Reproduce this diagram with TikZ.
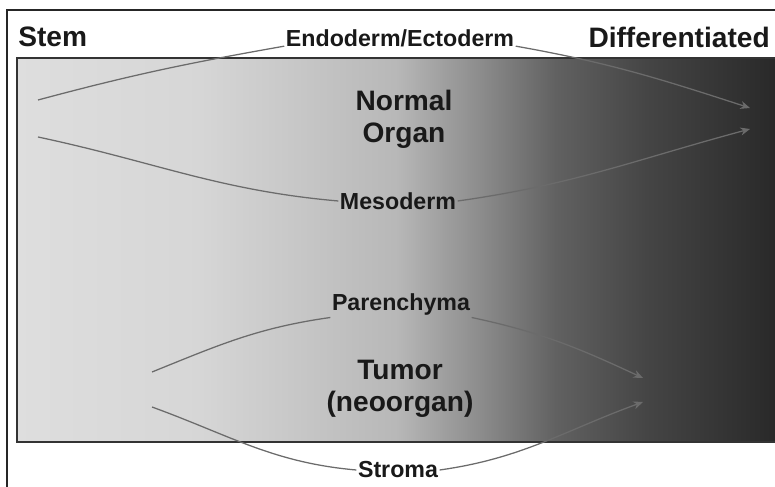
\documentclass[tikz,border=0pt]{standalone}
\usepackage{fontspec}
\setmainfont{Liberation Sans}
\usetikzlibrary{arrows.meta}

\pgfdeclarehorizontalshading{maturity}{100bp}{%
  color(0bp)=(black!13); color(25bp)=(black!13); color(37bp)=(black!16);
  color(50bp)=(black!28); color(55.5bp)=(black!45); color(60.5bp)=(black!62);
  color(66.5bp)=(black!73); color(75bp)=(black!84); color(100bp)=(black!84)}

\begin{document}
\begin{tikzpicture}[
  x=0.25mm,y=0.25mm,
  >={Stealth[length=2.4mm,width=2mm]},
  heading/.style={font=\fontsize{20}{23}\selectfont\bfseries,text=black!90,inner sep=0pt},
  organ/.style={font=\fontsize{20}{23}\selectfont\bfseries,text=black!90,align=center,inner sep=0pt},
  lineage/.style={font=\fontsize{16.5}{19}\selectfont\bfseries,text=black!90,inner sep=1pt},
  link/.style={draw=black!58,line width=0.9pt}
]
\useasboundingbox (0,0) rectangle (775,487);

% frame and maturity gradient
\draw[line width=1.2pt,black!85] (7,-5) |- (790,477);
\shade[shading=maturity] (17,45) rectangle (776,429);
\draw[line width=0.8pt,black!80] (776,429) -| (17,45) -- (776,45);

% headings
\node[heading,anchor=west] (stem) at (18,450) {Stem};
\node[heading,anchor=east] (diff) at (770,450) {Differentiated};

% organ labels
\node[organ] (normal) at (404,368) {Normal\\Organ};
\node[organ] (tumor) at (400,98) {Tumor\\(neoorgan)};

% lineage labels
\node[lineage] (endo) at (400,449) {Endoderm/Ectoderm};
\node[lineage] (meso) at (398,286) {Mesoderm};
\node[lineage] (paren) at (401,182) {Parenchyma};
\node[lineage] (stroma) at (398,17) {Stroma};

% start and end points
\coordinate (s1) at (38,387);
\coordinate (s2) at (38,350);
\coordinate (s3) at (152,115);
\coordinate (s4) at (152,80);
\coordinate (d1) at (750,379);
\coordinate (d2) at (750,358);
\coordinate (d3) at (643,109);
\coordinate (d4) at (643,85);

% connectors
\draw[link] (s1) to[out=15,in=190] (endo.base west);
\draw[link,->] (endo.base east) to[out=-10,in=162] (d1);
\draw[link] (s2) to[out=-12,in=175] (meso.west);
\draw[link,->] (meso.east) to[out=8,in=195] (d2);
\draw[link] (s3) to[out=22,in=188] (paren.south west);
\draw[link,->] (paren.south east) to[out=-12,in=155] (d3);
\draw[link] (s4) to[out=-20,in=175] (stroma.west);
\draw[link,->] (stroma.east) to[out=8,in=200] (d4);
\end{tikzpicture}
\end{document}
